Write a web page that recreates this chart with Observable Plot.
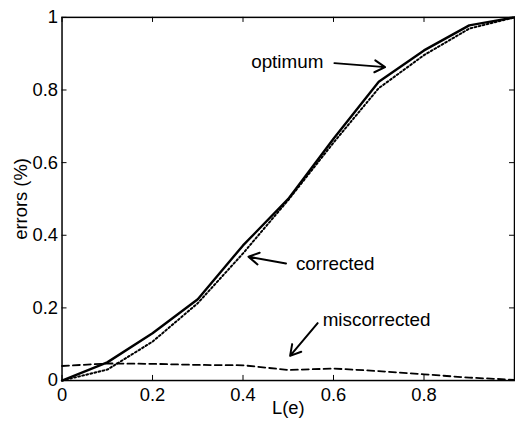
<!DOCTYPE html>
<html><head><meta charset="utf-8">
<script src="https://cdn.jsdelivr.net/npm/d3@7"></script>
<script src="https://cdn.jsdelivr.net/npm/@observablehq/plot@0.6"></script>
<style>
html,body{margin:0;padding:0;background:#fff;overflow:hidden;width:515px;height:424px}
svg{font-family:"Liberation Sans",Arial,sans-serif}
</style></head>
<body><div id="chart"></div>
<script>
const L = [0, 0.1, 0.2, 0.3, 0.4, 0.5, 0.6, 0.7, 0.8, 0.9, 1.0];
const optimum = [0, 0.05, 0.13, 0.224, 0.372, 0.50, 0.666, 0.823, 0.909, 0.978, 1.0];
const corrected = [0, 0.03, 0.107, 0.213, 0.35, 0.497, 0.655, 0.805, 0.896, 0.969, 1.0];
const miscorrected = [0.04, 0.047, 0.046, 0.043, 0.042, 0.029, 0.033, 0.026, 0.017, 0.008, 0.002];
const xTicks = [0, 0.2, 0.4, 0.6, 0.8];
const xTickMarks = [0, 0.2, 0.4, 0.6, 0.8, 1];
const yTicks = [0, 0.2, 0.4, 0.6, 0.8, 1];
const labelNames = ["optimum", "corrected", "miscorrected"];
const labelX = [0.418, 0.517, 0.576];
const labelY = [0.876, 0.322, 0.166];
const arrowX1 = [0.602, 0.495, 0.565];
const arrowY1 = [0.874, 0.322, 0.158];
const arrowX2 = [0.714, 0.412, 0.504];
const arrowY2 = [0.863, 0.341, 0.068];

const rows = L.map((x, i) => ({x, optimum: optimum[i], corrected: corrected[i], miscorrected: miscorrected[i]}));
const notes = labelNames.map((t, i) => ({t, x: labelX[i], y: labelY[i], x1: arrowX1[i], y1: arrowY1[i], x2: arrowX2[i], y2: arrowY2[i]}));

const chart = Plot.plot({
  width: 519, height: 424,
  marginLeft: 62, marginRight: 1, marginTop: 17, marginBottom: 41,
  style: {fontFamily: '"Liberation Sans", Arial, sans-serif', fontSize: "19px", background: "#fff", color: "#000"},
  x: {type: "linear", domain: [0, 1]},
  y: {type: "linear", domain: [0, 1]},
  marks: [
    Plot.axisX({anchor: "bottom", ticks: xTicks, tickSize: 0, tickPadding: 7, tickFormat: d => String(d), label: "L(e)", labelAnchor: "center", labelArrow: "none", labelOffset: 34, fontSize: 18.5}),
    Plot.axisY({anchor: "left", ticks: yTicks, tickSize: 0, tickPadding: 4, tickFormat: d => String(d), label: "errors (%)", labelAnchor: "center", labelArrow: "none", labelOffset: 48, fontSize: 18.5}),
    Plot.ruleX(xTickMarks, {x: d => d, y1: 0, y2: 0.014, stroke: "#000"}),
    Plot.ruleX(xTickMarks, {x: d => d, y1: 1, y2: 0.986, stroke: "#000"}),
    Plot.ruleY(yTicks, {y: d => d, x1: 0, x2: 0.011, stroke: "#000"}),
    Plot.ruleY(yTicks, {y: d => d, x1: 1, x2: 0.989, stroke: "#000"}),
    Plot.frame({stroke: "#000", strokeWidth: 1.5}),
    Plot.line(rows, {x: "x", y: "miscorrected", stroke: "#000", strokeWidth: 1.8, strokeDasharray: "7,4"}),
    Plot.line(rows, {x: "x", y: "corrected", stroke: "#000", strokeWidth: 2, strokeDasharray: "1.8,2.4"}),
    Plot.line(rows, {x: "x", y: "optimum", stroke: "#000", strokeWidth: 2.4}),
    Plot.arrow(notes, {x1: "x1", y1: "y1", x2: "x2", y2: "y2", stroke: "#000", strokeWidth: 2, headLength: 9}),
    Plot.text(notes, {x: "x", y: "y", text: "t", textAnchor: "start", fontSize: 19, fill: "#000"})
  ]
});
document.getElementById("chart").appendChild(chart);
</script></body></html>
